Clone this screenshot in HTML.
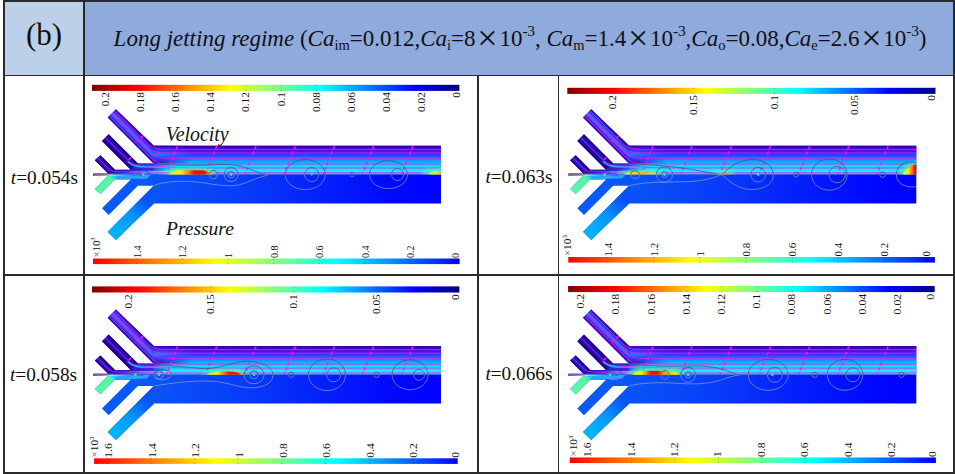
<!DOCTYPE html>
<html lang="en"><head><meta charset="utf-8"><title>Long jetting regime</title>
<style>
html,body{margin:0;padding:0;background:#fff;}
body{width:955px;height:474px;position:relative;overflow:hidden;font-family:"Liberation Serif",serif;color:#111;}
.ab{position:absolute;}
.ln{position:absolute;background:#2a2a2a;}
#cb{left:4px;top:1px;width:80px;height:75px;background:#bdd0ea;}
#ch{left:84px;top:1px;width:870px;height:75px;background:#8faadc;}
#lb{left:4px;top:-1.8px;width:80px;height:74px;line-height:74px;text-align:center;font-size:31px;}
#tt{left:113.6px;top:21.8px;white-space:nowrap;font-size:23px;line-height:34px;height:34px;}
#tt i{font-style:italic;}
#tt sub{font-size:14.5px;vertical-align:baseline;position:relative;top:4px;line-height:0;}
#tt sup{font-size:15.5px;vertical-align:baseline;position:relative;top:-9.6px;line-height:0;letter-spacing:-0.2px;}
#tt .x{display:inline-block;width:23.8px;text-align:center;font-size:36px;line-height:0;position:relative;top:4.3px;}
.tm{position:absolute;font-size:19.3px;line-height:22px;height:22px;white-space:nowrap;}
svg{position:absolute;left:0;top:0;}
svg text{font-family:"Liberation Serif",serif;fill:#111;}
</style></head>
<body>
<div class="ab" id="cb"></div><div class="ab" id="ch"></div>
<div class="ln" style="left:3px;top:0;width:951px;height:2px"></div>
<div class="ln" style="left:3px;top:472px;width:951px;height:2px"></div>
<div class="ln" style="left:3px;top:0;width:1.5px;height:474px"></div>
<div class="ln" style="left:953px;top:0;width:1.5px;height:474px"></div>
<div class="ln" style="left:83.3px;top:0;width:1.4px;height:474px"></div>
<div class="ln" style="left:477.4px;top:75px;width:1.4px;height:399px"></div>
<div class="ln" style="left:557.6px;top:75px;width:1.4px;height:399px"></div>
<div class="ln" style="left:3px;top:74.6px;width:951px;height:1.4px"></div>
<div class="ln" style="left:3px;top:274.4px;width:951px;height:1.4px"></div>
<div class="ab" id="lb">(b)</div>
<div class="ab" id="tt"><i>Long jetting regime </i>(<i>Ca</i><sub>im</sub>=0.012,<i>Ca</i><sub>i</sub>=8<span class="x">×</span>10<sup>-3</sup>, <i>Ca</i><sub>m</sub>=1.4<span class="x">×</span>10<sup>-3</sup>,<i>Ca</i><sub>o</sub>=0.08,<i>Ca</i><sub>e</sub>=2.6<span class="x">×</span>10<sup>-3</sup>)</div>
<div class="tm" style="left:10.8px;top:167.3px"><i>t</i>=0.054s</div>
<div class="tm" style="left:10px;top:363.9px"><i>t</i>=0.058s</div>
<div class="tm" style="left:485.4px;top:166.4px"><i>t</i>=0.063s</div>
<div class="tm" style="left:485.4px;top:362.6px"><i>t</i>=0.066s</div>
<svg width="955" height="474" viewBox="0 0 955 474">

<defs>
<linearGradient id="gv" x1="0" x2="1" y1="0" y2="0">
<stop offset="0" stop-color="#800000"/><stop offset="0.125" stop-color="#ff0000"/><stop offset="0.25" stop-color="#ff8000"/>
<stop offset="0.375" stop-color="#ffff00"/><stop offset="0.5" stop-color="#80ff80"/><stop offset="0.625" stop-color="#00ffff"/>
<stop offset="0.75" stop-color="#0080ff"/><stop offset="0.875" stop-color="#0000ff"/><stop offset="1" stop-color="#000080"/>
</linearGradient>
<linearGradient id="gp" x1="0" x2="1" y1="0" y2="0">
<stop offset="0" stop-color="#ff0000"/><stop offset="0.167" stop-color="#ff8000"/><stop offset="0.333" stop-color="#ffff00"/>
<stop offset="0.5" stop-color="#80ff80"/><stop offset="0.667" stop-color="#00ffff"/><stop offset="0.833" stop-color="#0080ff"/>
<stop offset="1" stop-color="#0000ff"/>
</linearGradient>
<linearGradient id="gu" gradientUnits="userSpaceOnUse" x1="0" x2="0" y1="145.8" y2="174.6">
<stop offset="0" stop-color="#3000a8"/><stop offset="0.1" stop-color="#3c08c0"/><stop offset="0.16" stop-color="#4414e0"/>
<stop offset="0.25" stop-color="#3420f8"/><stop offset="0.36" stop-color="#2450ff"/><stop offset="0.45" stop-color="#1880ff"/>
<stop offset="0.55" stop-color="#10a8ff"/><stop offset="0.62" stop-color="#08d0ff"/><stop offset="0.7" stop-color="#08e4fc"/>
<stop offset="0.8" stop-color="#04f4ff"/><stop offset="0.9" stop-color="#10f0ff"/><stop offset="0.95" stop-color="#40b8f0"/><stop offset="1" stop-color="#4898e0"/>
</linearGradient>
<linearGradient id="gl" gradientUnits="userSpaceOnUse" x1="140" x2="441" y1="0" y2="0">
<stop offset="0" stop-color="#0a58f6"/><stop offset="0.3" stop-color="#0840f8"/><stop offset="0.6" stop-color="#0420fc"/><stop offset="0.85" stop-color="#0008ff"/><stop offset="1" stop-color="#0000ff"/>
</linearGradient>
<linearGradient id="gb1" gradientUnits="userSpaceOnUse" x1="107.7" y1="117.5" x2="115.9" y2="109.3">
<stop offset="0" stop-color="#2c00a4"/><stop offset="0.16" stop-color="#4418d8"/><stop offset="0.36" stop-color="#3840f8"/><stop offset="0.52" stop-color="#2c7cff"/><stop offset="0.68" stop-color="#3840f8"/><stop offset="0.86" stop-color="#4418d8"/><stop offset="1" stop-color="#2c00a4"/>
</linearGradient>
<linearGradient id="gb2" gradientUnits="userSpaceOnUse" x1="102" y1="141" x2="108.7" y2="134.2">
<stop offset="0" stop-color="#16007c"/><stop offset="0.5" stop-color="#3410c4"/><stop offset="1" stop-color="#16007c"/>
</linearGradient>
<linearGradient id="gb3" gradientUnits="userSpaceOnUse" x1="94.8" y1="160.3" x2="100.4" y2="155.2">
<stop offset="0" stop-color="#1a0084"/><stop offset="0.5" stop-color="#3a14d0"/><stop offset="1" stop-color="#1a0084"/>
</linearGradient>
<linearGradient id="gbm" gradientUnits="userSpaceOnUse" x1="0" y1="163.8" x2="0" y2="145.4">
<stop offset="0" stop-color="#2c00a4"/><stop offset="0.16" stop-color="#4418d8"/><stop offset="0.36" stop-color="#3840f8"/><stop offset="0.52" stop-color="#2c7cff"/><stop offset="0.68" stop-color="#3840f8"/><stop offset="0.86" stop-color="#4418d8"/><stop offset="1" stop-color="#2c00a4"/>
</linearGradient>
<linearGradient id="gfm" gradientUnits="userSpaceOnUse" x1="153" y1="0" x2="192" y2="0">
<stop offset="0" stop-color="#fff"/><stop offset="0.25" stop-color="#ddd"/><stop offset="1" stop-color="#000"/>
</linearGradient>
<mask id="mf" maskUnits="userSpaceOnUse" x="150" y="140" width="50" height="30"><rect x="150" y="140" width="50" height="30" fill="url(#gfm)"/></mask>
<linearGradient id="gl1" gradientUnits="userSpaceOnUse" x1="111.8" y1="235.8" x2="153" y2="194.6">
<stop offset="0" stop-color="#00b8fe"/><stop offset="0.45" stop-color="#0898fa"/><stop offset="0.86" stop-color="#0953f6"/><stop offset="1" stop-color="#0953f6"/>
</linearGradient>
<linearGradient id="gl3" gradientUnits="userSpaceOnUse" x1="97.6" y1="191.4" x2="118" y2="177">
<stop offset="0" stop-color="#5cf8a0"/><stop offset="0.72" stop-color="#54f4a4"/><stop offset="0.88" stop-color="#28d8e8"/><stop offset="1" stop-color="#1890f6"/>
</linearGradient>
<linearGradient id="gc" gradientUnits="userSpaceOnUse" x1="93" y1="0" x2="143" y2="0">
<stop offset="0" stop-color="#ff2000"/><stop offset="0.2" stop-color="#ff8000"/><stop offset="0.36" stop-color="#f0f020"/><stop offset="0.5" stop-color="#40e8e0"/><stop offset="0.7" stop-color="#20a0ff"/><stop offset="1" stop-color="#2060ff"/>
</linearGradient>
<linearGradient id="gjs" gradientUnits="userSpaceOnUse" x1="122" y1="0" x2="170" y2="0">
<stop offset="0" stop-color="#3050ff" stop-opacity="0"/><stop offset="0.3" stop-color="#2890ff"/><stop offset="0.65" stop-color="#20d8ff"/><stop offset="1" stop-color="#60ffb0"/>
</linearGradient>
<linearGradient id="gj" gradientUnits="userSpaceOnUse" x1="112" y1="0" x2="172" y2="0">
<stop offset="0" stop-color="#2a10b8"/><stop offset="0.5" stop-color="#3a24dc"/><stop offset="0.72" stop-color="#3a30e8" stop-opacity="0.8"/><stop offset="1" stop-color="#3a30e8" stop-opacity="0"/>
</linearGradient>
<clipPath id="cu"><rect x="90" y="100" width="351" height="74.6"/></clipPath>
<clipPath id="cl"><rect x="90" y="174.6" width="351" height="80"/></clipPath>
<filter id="bl" x="-20%" y="-100%" width="140%" height="300%"><feGaussianBlur stdDeviation="1.6"/></filter>
<filter id="bs" x="-20%" y="-100%" width="140%" height="300%"><feGaussianBlur stdDeviation="0.55"/></filter>
<linearGradient id="h1" gradientUnits="userSpaceOnUse" x1="167" x2="213" y1="0" y2="0"><stop offset="0" stop-color="#b0ff50" stop-opacity="0"/><stop offset="0.087" stop-color="#fff000" stop-opacity="1"/><stop offset="0.283" stop-color="#fff000" stop-opacity="1"/><stop offset="0.457" stop-color="#ff8800" stop-opacity="1"/><stop offset="0.587" stop-color="#ff1000" stop-opacity="1"/><stop offset="0.826" stop-color="#ff1000" stop-opacity="1"/><stop offset="0.913" stop-color="#ff8800" stop-opacity="1"/><stop offset="0.967" stop-color="#fff000" stop-opacity="0.9"/><stop offset="1" stop-color="#b0ff50" stop-opacity="0"/></linearGradient><linearGradient id="h1e" gradientUnits="userSpaceOnUse" x1="426" x2="448" y1="0" y2="0"><stop offset="0" stop-color="#b0ff50" stop-opacity="0"/><stop offset="0.227" stop-color="#c0ff50" stop-opacity="0.8"/><stop offset="0.455" stop-color="#f0f020" stop-opacity="0.9"/><stop offset="0.682" stop-color="#ffb000" stop-opacity="0.95"/><stop offset="1" stop-color="#ff8800" stop-opacity="1"/></linearGradient><linearGradient id="h2" gradientUnits="userSpaceOnUse" x1="146" x2="186" y1="0" y2="0"><stop offset="0" stop-color="#b0ff50" stop-opacity="0"/><stop offset="0.15" stop-color="#e8ff30" stop-opacity="0.9"/><stop offset="0.35" stop-color="#ffd000" stop-opacity="1"/><stop offset="0.6" stop-color="#ffb000" stop-opacity="1"/><stop offset="0.85" stop-color="#d8ff40" stop-opacity="0.8"/><stop offset="1" stop-color="#b0ff50" stop-opacity="0"/></linearGradient><linearGradient id="h2b" gradientUnits="userSpaceOnUse" x1="240" x2="256" y1="0" y2="0"><stop offset="0" stop-color="#b0ff50" stop-opacity="0"/><stop offset="0.312" stop-color="#ffc000" stop-opacity="0.9"/><stop offset="0.688" stop-color="#ff9000" stop-opacity="0.9"/><stop offset="1" stop-color="#b0ff50" stop-opacity="0"/></linearGradient><linearGradient id="h2e" gradientUnits="userSpaceOnUse" x1="425" x2="442" y1="0" y2="0"><stop offset="0" stop-color="#70ffb0" stop-opacity="0"/><stop offset="0.25" stop-color="#c8ff40"/><stop offset="0.45" stop-color="#fff000"/><stop offset="0.65" stop-color="#ff8800"/><stop offset="0.85" stop-color="#ff1000"/><stop offset="1" stop-color="#f00000"/></linearGradient><linearGradient id="h3" gradientUnits="userSpaceOnUse" x1="205" x2="245" y1="0" y2="0"><stop offset="0" stop-color="#b0ff50" stop-opacity="0"/><stop offset="0.1" stop-color="#fff000" stop-opacity="0.95"/><stop offset="0.3" stop-color="#fff000" stop-opacity="1"/><stop offset="0.45" stop-color="#ff8800" stop-opacity="1"/><stop offset="0.6" stop-color="#ff1000" stop-opacity="1"/><stop offset="0.825" stop-color="#ff1000" stop-opacity="1"/><stop offset="0.925" stop-color="#ff8800" stop-opacity="1"/><stop offset="1" stop-color="#fff000" stop-opacity="0"/></linearGradient><linearGradient id="h4" gradientUnits="userSpaceOnUse" x1="155" x2="207" y1="0" y2="0"><stop offset="0" stop-color="#b0ff50" stop-opacity="0"/><stop offset="0.077" stop-color="#fff000" stop-opacity="0.95"/><stop offset="0.212" stop-color="#fff000" stop-opacity="1"/><stop offset="0.308" stop-color="#ff8800" stop-opacity="1"/><stop offset="0.385" stop-color="#ff1000" stop-opacity="1"/><stop offset="0.538" stop-color="#ff1000" stop-opacity="1"/><stop offset="0.615" stop-color="#ff8800" stop-opacity="1"/><stop offset="0.75" stop-color="#ffc000" stop-opacity="1"/><stop offset="0.885" stop-color="#fff000" stop-opacity="0.95"/><stop offset="1" stop-color="#b0ff50" stop-opacity="0"/></linearGradient></defs>

<g transform="translate(0 0)">
<rect x="92" y="84.8" width="367.4" height="6.1" fill="url(#gv)"/>
<rect x="93" y="258.5" width="366.6" height="5.6" fill="url(#gp)"/>
<path d="M105.3 84.8v1.2M105.3 90.9v-1.2" stroke="#400" stroke-width="0.7" opacity="0.45"/>
<text transform="translate(108.5 92.1) rotate(-90) scale(1 1)" font-size="11.3" text-anchor="end">0.2</text>
<path d="M140.5 84.8v1.2M140.5 90.9v-1.2" stroke="#400" stroke-width="0.7" opacity="0.45"/>
<text transform="translate(143.7 92.1) rotate(-90) scale(1 1)" font-size="11.3" text-anchor="end">0.18</text>
<path d="M175.7 84.8v1.2M175.7 90.9v-1.2" stroke="#400" stroke-width="0.7" opacity="0.45"/>
<text transform="translate(178.9 92.1) rotate(-90) scale(1 1)" font-size="11.3" text-anchor="end">0.16</text>
<path d="M210.9 84.8v1.2M210.9 90.9v-1.2" stroke="#400" stroke-width="0.7" opacity="0.45"/>
<text transform="translate(214.1 92.1) rotate(-90) scale(1 1)" font-size="11.3" text-anchor="end">0.14</text>
<path d="M246.1 84.8v1.2M246.1 90.9v-1.2" stroke="#400" stroke-width="0.7" opacity="0.45"/>
<text transform="translate(249.3 92.1) rotate(-90) scale(1 1)" font-size="11.3" text-anchor="end">0.12</text>
<path d="M281.3 84.8v1.2M281.3 90.9v-1.2" stroke="#400" stroke-width="0.7" opacity="0.45"/>
<text transform="translate(284.5 92.1) rotate(-90) scale(1 1)" font-size="11.3" text-anchor="end">0.1</text>
<path d="M316.5 84.8v1.2M316.5 90.9v-1.2" stroke="#400" stroke-width="0.7" opacity="0.45"/>
<text transform="translate(319.7 92.1) rotate(-90) scale(1 1)" font-size="11.3" text-anchor="end">0.08</text>
<path d="M351.7 84.8v1.2M351.7 90.9v-1.2" stroke="#400" stroke-width="0.7" opacity="0.45"/>
<text transform="translate(354.9 92.1) rotate(-90) scale(1 1)" font-size="11.3" text-anchor="end">0.06</text>
<path d="M386.9 84.8v1.2M386.9 90.9v-1.2" stroke="#400" stroke-width="0.7" opacity="0.45"/>
<text transform="translate(390.1 92.1) rotate(-90) scale(1 1)" font-size="11.3" text-anchor="end">0.04</text>
<path d="M422.1 84.8v1.2M422.1 90.9v-1.2" stroke="#400" stroke-width="0.7" opacity="0.45"/>
<text transform="translate(425.3 92.1) rotate(-90) scale(1 1)" font-size="11.3" text-anchor="end">0.02</text>
<path d="M456.6 84.8v1.2M456.6 90.9v-1.2" stroke="#400" stroke-width="0.7" opacity="0.45"/>
<text transform="translate(459.8 92.1) rotate(-90) scale(1 1)" font-size="11.3" text-anchor="end">0</text>
<path d="M136.9 258.5v1.2M136.9 264.1v-1.2" stroke="#400" stroke-width="0.7" opacity="0.45"/>
<text transform="translate(140.8 258) rotate(-90) scale(0.89 1)" font-size="11.3" text-anchor="start">1.4</text>
<path d="M182.5 258.5v1.2M182.5 264.1v-1.2" stroke="#400" stroke-width="0.7" opacity="0.45"/>
<text transform="translate(186.4 258) rotate(-90) scale(0.89 1)" font-size="11.3" text-anchor="start">1.2</text>
<path d="M228.1 258.5v1.2M228.1 264.1v-1.2" stroke="#400" stroke-width="0.7" opacity="0.45"/>
<text transform="translate(232 258) rotate(-90) scale(0.89 1)" font-size="11.3" text-anchor="start">1</text>
<path d="M273.7 258.5v1.2M273.7 264.1v-1.2" stroke="#400" stroke-width="0.7" opacity="0.45"/>
<text transform="translate(277.6 258) rotate(-90) scale(0.89 1)" font-size="11.3" text-anchor="start">0.8</text>
<path d="M319.3 258.5v1.2M319.3 264.1v-1.2" stroke="#400" stroke-width="0.7" opacity="0.45"/>
<text transform="translate(323.2 258) rotate(-90) scale(0.89 1)" font-size="11.3" text-anchor="start">0.6</text>
<path d="M364.9 258.5v1.2M364.9 264.1v-1.2" stroke="#400" stroke-width="0.7" opacity="0.45"/>
<text transform="translate(368.8 258) rotate(-90) scale(0.89 1)" font-size="11.3" text-anchor="start">0.4</text>
<path d="M410.5 258.5v1.2M410.5 264.1v-1.2" stroke="#400" stroke-width="0.7" opacity="0.45"/>
<text transform="translate(414.4 258) rotate(-90) scale(0.89 1)" font-size="11.3" text-anchor="start">0.2</text>
<path d="M455 258.5v1.2M455 264.1v-1.2" stroke="#400" stroke-width="0.7" opacity="0.45"/>
<text transform="translate(458.9 258) rotate(-90) scale(0.89 1)" font-size="11.3" text-anchor="start">0</text>
<text transform="translate(99.6 257.6) rotate(-90) scale(0.97 1)" font-size="11.3"><tspan font-size="11" fill="#555">×</tspan>10<tspan dy="-4.5" font-size="7">3</tspan></text>
<polygon points="153,145.8 115.9,109.3 107.7,117.5 153.6,163.4 137.9,163.4 108.7,134.2 102,141 130.7,169.7 114.9,169.7 100.4,155.2 94.8,160.3 108.1,173.6 93,173.6 93,174.6 441,174.6 441,145.8" fill="#3a14d0"/>
<polygon points="153.6,145.2 115.9,109.3 107.7,117.5 154.2,164" fill="url(#gb1)"/>
<polygon points="138.5,164 108.7,134.2 102,141 131.3,170.3" fill="url(#gb2)"/>
<polygon points="115.5,170.3 100.4,155.2 94.8,160.3 108.6,174.1" fill="url(#gb3)"/>
<polygon points="153,145.8 441,145.8 441,174.6 153.6,174.6" fill="url(#gu)"/>
<polygon points="137.9,163.4 178,163.4 178,174.6 109.1,174.6 108.1,173.6 112,171.5 116,169.7 130.7,169.7" fill="url(#gj)"/>
<path d="M128 161.5Q132 166.2 141 166.6L176 167" fill="none" stroke="#20c8ff" stroke-width="1.8" opacity="0.85"/>
<path d="M122 172.3L170 172.1" fill="none" stroke="url(#gjs)" stroke-width="2.8"/>
<polygon points="153,145.8 192,145.8 192,163.6 153.6,163.6" fill="url(#gbm)" mask="url(#mf)"/>
<polygon points="153,203.4 115.9,239.9 107.7,231.7 153.6,185.8 137.9,185.8 108.7,215 102,208.2 130.7,179.5 114.9,179.5 100.4,194 94.8,188.9 108.1,175.6 93,175.6 93,174.6 441,174.6 441,203.4" fill="url(#gl)"/>
<polygon points="153.6,204 115.9,239.9 107.7,231.7 154.2,185.2" fill="url(#gl1)"/>
<polygon points="117.5,176.9 100.4,194 94.8,188.9 109.1,174.6 125,174.6" fill="url(#gl3)"/>
<path d="M110 174.8L150 174.8L147 178.2L117 179.4Z" fill="#28c0fa" opacity="0.75" filter="url(#bs)"/>
<rect x="93" y="173.5" width="58" height="1.1" fill="#4a5cff"/>
<rect x="93" y="174.6" width="50" height="1.1" fill="url(#gc)"/>
<path d="M158 149.4H441M161 153H441M164 158.2H441M167 164H441M170 168H441" fill="none" stroke="#c020ff" stroke-width="2.4" opacity="0.22"/><path d="M114.42 110.78L146.03 142.4Q152.03 148.8 162.03 149.4H441M112.72 112.48L146.24 146Q152.24 152.4 162.24 153H441M110.88 114.32L147.76 151.2Q153.76 157.6 163.76 158.2H441M109.11 116.09L150.03 157Q156.03 163.4 166.03 164H441M105.3 137.6L127 159.3Q131.5 164.6 140 165.6L160 166.6Q175 167.6 200 168H441M97.6 157.8L108.5 168.7Q111.5 171.6 118 171.8L170 172.6H441" fill="none" stroke="#f41cf0" stroke-width="0.8" opacity="0.8"/>
<path d="M177.5 146.3L166.5 173.8M216.7 146.3L205.7 173.8M256 146.3L245 173.8M295.2 146.3L284.2 173.8M334.4 146.3L323.4 173.8M373.6 146.3L362.6 173.8M412.8 146.3L401.8 173.8M143.2 135.8L135 143.8M131 157.5L126.5 162" fill="none" stroke="#ff10ff" stroke-width="1.5" stroke-dasharray="3.4 2.2" opacity="0.95"/><g clip-path="url(#cu)"><path d="M162 175.2C166.03 170.81 168.9 167.7 173.5 167.7L206.5 167.7C211.1 167.7 213.97 170.81 218 175.2Z" fill="#50ffa0" opacity="0.6" filter="url(#bl)"/><path d="M167 175.2C171.03 172.23 173.9 170.3 178.5 170.3L201.5 170.3C206.1 170.3 208.97 172.23 213 175.2Z" fill="url(#h1)" filter="url(#bs)"/></g>
<g clip-path="url(#cu)"><path d="M421 175.2C423.31 171.3 424.96 168.6 427.6 168.6L446.4 168.6C449.04 168.6 450.69 171.3 453 175.2Z" fill="#50ffa0" opacity="0.6" filter="url(#bl)"/><path d="M426 175.2C428.31 172.73 429.96 171.2 432.6 171.2L441.4 171.2C444.04 171.2 445.69 172.73 448 175.2Z" fill="url(#h1e)" filter="url(#bs)"/></g>
<g fill="none" stroke-width="0.75"><g clip-path="url(#cu)" stroke="#38587c"><ellipse cx="143.3" cy="174.6" rx="6.5" ry="3.8"/><ellipse cx="213.4" cy="174.6" rx="4.2" ry="4.2"/><ellipse cx="231.1" cy="174.6" rx="7" ry="7"/><ellipse cx="231.1" cy="174.6" rx="3.2" ry="3.2"/><path d="M153.6 163.4C170 165.6 200 165.6 215 164.6S240 165 252 170S264 173.6 268.6 174.6C262 177 256 178.2 250 181C242 184.5 237 185.8 230 185.8C215 185.8 205 182 190 181.4C178 181 162 181.6 153.6 185.8"/><ellipse cx="305.3" cy="174.6" rx="20" ry="15"/><ellipse cx="311.7" cy="174.6" rx="7" ry="7"/><ellipse cx="352" cy="174.6" rx="2.2" ry="2.2"/><ellipse cx="388.5" cy="174.6" rx="19" ry="14"/><ellipse cx="397.5" cy="174.6" rx="6" ry="6"/></g><g clip-path="url(#cl)" stroke="#8096e0"><ellipse cx="143.3" cy="174.6" rx="6.5" ry="3.8"/><ellipse cx="213.4" cy="174.6" rx="4.2" ry="4.2"/><ellipse cx="231.1" cy="174.6" rx="7" ry="7"/><ellipse cx="231.1" cy="174.6" rx="3.2" ry="3.2"/><path d="M153.6 163.4C170 165.6 200 165.6 215 164.6S240 165 252 170S264 173.6 268.6 174.6C262 177 256 178.2 250 181C242 184.5 237 185.8 230 185.8C215 185.8 205 182 190 181.4C178 181 162 181.6 153.6 185.8"/><ellipse cx="305.3" cy="174.6" rx="20" ry="15"/><ellipse cx="311.7" cy="174.6" rx="7" ry="7"/><ellipse cx="352" cy="174.6" rx="2.2" ry="2.2"/><ellipse cx="388.5" cy="174.6" rx="19" ry="14"/><ellipse cx="397.5" cy="174.6" rx="6" ry="6"/></g></g>
<circle cx="143.3" cy="174.6" r="1.3" fill="#30e8f0" stroke="none"/>
<circle cx="231.1" cy="174.6" r="1.3" fill="#30e8f0" stroke="none"/>
<circle cx="311.7" cy="174.6" r="1" fill="#30e8f0" stroke="none"/><text x="165.7" y="141" font-size="19.9" font-style="italic">Velocity</text><text x="166" y="235.1" font-size="19.5" font-style="italic">Pressure</text>
</g>
<g transform="translate(475.3 0)">
<rect x="92" y="87.8" width="368.2" height="6.1" fill="url(#gv)"/>
<rect x="93" y="257" width="366.6" height="5.6" fill="url(#gp)"/>
<path d="M137.9 87.8v1.2M137.9 93.9v-1.2" stroke="#400" stroke-width="0.7" opacity="0.45"/>
<text transform="translate(140.8 95.1) rotate(-90) scale(1 1)" font-size="11.3" text-anchor="end">0.2</text>
<path d="M218.6 87.8v1.2M218.6 93.9v-1.2" stroke="#400" stroke-width="0.7" opacity="0.45"/>
<text transform="translate(221.5 95.1) rotate(-90) scale(1 1)" font-size="11.3" text-anchor="end">0.15</text>
<path d="M299.3 87.8v1.2M299.3 93.9v-1.2" stroke="#400" stroke-width="0.7" opacity="0.45"/>
<text transform="translate(302.2 95.1) rotate(-90) scale(1 1)" font-size="11.3" text-anchor="end">0.1</text>
<path d="M380 87.8v1.2M380 93.9v-1.2" stroke="#400" stroke-width="0.7" opacity="0.45"/>
<text transform="translate(382.9 95.1) rotate(-90) scale(1 1)" font-size="11.3" text-anchor="end">0.05</text>
<path d="M456.6 87.8v1.2M456.6 93.9v-1.2" stroke="#400" stroke-width="0.7" opacity="0.45"/>
<text transform="translate(459.5 95.1) rotate(-90) scale(1 1)" font-size="11.3" text-anchor="end">0</text>
<path d="M132.6 257v1.2M132.6 262.6v-1.2" stroke="#400" stroke-width="0.7" opacity="0.45"/>
<text transform="translate(136.5 256.5) rotate(-90) scale(0.97 1)" font-size="11.3" text-anchor="start">1.4</text>
<path d="M178.7 257v1.2M178.7 262.6v-1.2" stroke="#400" stroke-width="0.7" opacity="0.45"/>
<text transform="translate(182.6 256.5) rotate(-90) scale(0.97 1)" font-size="11.3" text-anchor="start">1.2</text>
<path d="M224.8 257v1.2M224.8 262.6v-1.2" stroke="#400" stroke-width="0.7" opacity="0.45"/>
<text transform="translate(228.7 256.5) rotate(-90) scale(0.97 1)" font-size="11.3" text-anchor="start">1</text>
<path d="M270.9 257v1.2M270.9 262.6v-1.2" stroke="#400" stroke-width="0.7" opacity="0.45"/>
<text transform="translate(274.8 256.5) rotate(-90) scale(0.97 1)" font-size="11.3" text-anchor="start">0.8</text>
<path d="M317 257v1.2M317 262.6v-1.2" stroke="#400" stroke-width="0.7" opacity="0.45"/>
<text transform="translate(320.9 256.5) rotate(-90) scale(0.97 1)" font-size="11.3" text-anchor="start">0.6</text>
<path d="M363.1 257v1.2M363.1 262.6v-1.2" stroke="#400" stroke-width="0.7" opacity="0.45"/>
<text transform="translate(367 256.5) rotate(-90) scale(0.97 1)" font-size="11.3" text-anchor="start">0.4</text>
<path d="M409.2 257v1.2M409.2 262.6v-1.2" stroke="#400" stroke-width="0.7" opacity="0.45"/>
<text transform="translate(413.1 256.5) rotate(-90) scale(0.97 1)" font-size="11.3" text-anchor="start">0.2</text>
<path d="M451.2 257v1.2M451.2 262.6v-1.2" stroke="#400" stroke-width="0.7" opacity="0.45"/>
<text transform="translate(455.1 256.5) rotate(-90) scale(0.97 1)" font-size="11.3" text-anchor="start">0</text>
<text transform="translate(96 256.1) rotate(-90) scale(1 1)" font-size="11.3"><tspan font-size="11" fill="#555">×</tspan>10<tspan dy="-4.5" font-size="7">3</tspan></text>
<polygon points="153,145.8 115.9,109.3 107.7,117.5 153.6,163.4 137.9,163.4 108.7,134.2 102,141 130.7,169.7 114.9,169.7 100.4,155.2 94.8,160.3 108.1,173.6 93,173.6 93,174.6 441,174.6 441,145.8" fill="#3a14d0"/>
<polygon points="153.6,145.2 115.9,109.3 107.7,117.5 154.2,164" fill="url(#gb1)"/>
<polygon points="138.5,164 108.7,134.2 102,141 131.3,170.3" fill="url(#gb2)"/>
<polygon points="115.5,170.3 100.4,155.2 94.8,160.3 108.6,174.1" fill="url(#gb3)"/>
<polygon points="153,145.8 441,145.8 441,174.6 153.6,174.6" fill="url(#gu)"/>
<polygon points="137.9,163.4 178,163.4 178,174.6 109.1,174.6 108.1,173.6 112,171.5 116,169.7 130.7,169.7" fill="url(#gj)"/>
<path d="M128 161.5Q132 166.2 141 166.6L176 167" fill="none" stroke="#20c8ff" stroke-width="1.8" opacity="0.85"/>
<path d="M122 172.3L170 172.1" fill="none" stroke="url(#gjs)" stroke-width="2.8"/>
<polygon points="153,145.8 192,145.8 192,163.6 153.6,163.6" fill="url(#gbm)" mask="url(#mf)"/>
<polygon points="153,203.4 115.9,239.9 107.7,231.7 153.6,185.8 137.9,185.8 108.7,215 102,208.2 130.7,179.5 114.9,179.5 100.4,194 94.8,188.9 108.1,175.6 93,175.6 93,174.6 441,174.6 441,203.4" fill="url(#gl)"/>
<polygon points="153.6,204 115.9,239.9 107.7,231.7 154.2,185.2" fill="url(#gl1)"/>
<polygon points="117.5,176.9 100.4,194 94.8,188.9 109.1,174.6 125,174.6" fill="url(#gl3)"/>
<path d="M110 174.8L150 174.8L147 178.2L117 179.4Z" fill="#28c0fa" opacity="0.75" filter="url(#bs)"/>
<rect x="93" y="173.5" width="58" height="1.1" fill="#4a5cff"/>
<rect x="93" y="174.6" width="50" height="1.1" fill="url(#gc)"/>
<path d="M158 149.4H441M161 153H441M164 158.2H441M167 164H441M170 168H441" fill="none" stroke="#c020ff" stroke-width="2.4" opacity="0.22"/><path d="M114.42 110.78L146.03 142.4Q152.03 148.8 162.03 149.4H441M112.72 112.48L146.24 146Q152.24 152.4 162.24 153H441M110.88 114.32L147.76 151.2Q153.76 157.6 163.76 158.2H441M109.11 116.09L150.03 157Q156.03 163.4 166.03 164H441M105.3 137.6L127 159.3Q131.5 164.6 140 165.6L160 166.6Q175 167.6 200 168H441M97.6 157.8L108.5 168.7Q111.5 171.6 118 171.8L170 172.6H441" fill="none" stroke="#f41cf0" stroke-width="0.8" opacity="0.8"/>
<path d="M177.5 146.3L166.5 173.8M216.7 146.3L205.7 173.8M256 146.3L245 173.8M295.2 146.3L284.2 173.8M334.4 146.3L323.4 173.8M373.6 146.3L362.6 173.8M412.8 146.3L401.8 173.8M143.2 135.8L135 143.8M131 157.5L126.5 162" fill="none" stroke="#ff10ff" stroke-width="1.5" stroke-dasharray="3.4 2.2" opacity="0.95"/><g clip-path="url(#cu)"><path d="M141 175.2C144.5 171.85 147 169.6 151 169.6L181 169.6C185 169.6 187.5 171.85 191 175.2Z" fill="#50ffa0" opacity="0.6" filter="url(#bl)"/><path d="M146 175.2C149.5 173.28 152 172.2 156 172.2L176 172.2C180 172.2 182.5 173.28 186 175.2Z" fill="url(#h2)" filter="url(#bs)"/></g>
<g clip-path="url(#cu)"><path d="M235 175.2C237.24 172.18 238.84 170.2 241.4 170.2L254.6 170.2C257.16 170.2 258.76 172.18 261 175.2Z" fill="#50ffa0" opacity="0.6" filter="url(#bl)"/><path d="M240 175.2C242.24 173.61 243.84 172.8 246.4 172.8L249.6 172.8C252.16 172.8 253.76 173.61 256 175.2Z" fill="url(#h2b)" filter="url(#bs)"/></g>
<g clip-path="url(#cu)"><path d="M422 175C426 168 434 161.5 443 161L443 176Z" fill="#50ffa0" opacity="0.6" filter="url(#bl)"/><path d="M426 175.2C430 170 435 165 442 164.2L442 175.2Z" fill="url(#h2e)" filter="url(#bs)"/></g>
<g fill="none" stroke-width="0.75"><g clip-path="url(#cu)" stroke="#38587c"><ellipse cx="129.4" cy="174.6" rx="6" ry="3.4"/><ellipse cx="159.8" cy="174.6" rx="4.2" ry="3.8"/><ellipse cx="189.1" cy="174.6" rx="8.2" ry="7.8"/><ellipse cx="189.1" cy="174.6" rx="3" ry="3"/><path d="M153.6 163.4C175 165 195 166 210 168.5S235 173 246.5 174.6C252 170 260 160 277 159.5C292 159.5 298 168 298 175C298 184 288 190 275 189.5C262 189 254 181 246.5 174.6C236 179 226 181 212 181.6C195 182.5 172 181 153.6 185.8"/><ellipse cx="282.8" cy="174.6" rx="7.3" ry="7.3"/><ellipse cx="320.9" cy="174.6" rx="2.5" ry="2.5"/><ellipse cx="354" cy="174.6" rx="17.8" ry="15.6"/><ellipse cx="361.8" cy="174.6" rx="8.2" ry="8.2"/><ellipse cx="407.2" cy="174.6" rx="2.8" ry="2.8"/><path d="M441 163C432 159.5 421 165 421 174.6C421 184 432 188.5 441 186.5"/></g><g clip-path="url(#cl)" stroke="#8096e0"><ellipse cx="129.4" cy="174.6" rx="6" ry="3.4"/><ellipse cx="159.8" cy="174.6" rx="4.2" ry="3.8"/><ellipse cx="189.1" cy="174.6" rx="8.2" ry="7.8"/><ellipse cx="189.1" cy="174.6" rx="3" ry="3"/><path d="M153.6 163.4C175 165 195 166 210 168.5S235 173 246.5 174.6C252 170 260 160 277 159.5C292 159.5 298 168 298 175C298 184 288 190 275 189.5C262 189 254 181 246.5 174.6C236 179 226 181 212 181.6C195 182.5 172 181 153.6 185.8"/><ellipse cx="282.8" cy="174.6" rx="7.3" ry="7.3"/><ellipse cx="320.9" cy="174.6" rx="2.5" ry="2.5"/><ellipse cx="354" cy="174.6" rx="17.8" ry="15.6"/><ellipse cx="361.8" cy="174.6" rx="8.2" ry="8.2"/><ellipse cx="407.2" cy="174.6" rx="2.8" ry="2.8"/><path d="M441 163C432 159.5 421 165 421 174.6C421 184 432 188.5 441 186.5"/></g></g>
<circle cx="129.4" cy="174.6" r="1.3" fill="#30e8f0" stroke="none"/>
<circle cx="189.1" cy="174.6" r="1.3" fill="#30e8f0" stroke="none"/>
<circle cx="282.8" cy="174.6" r="1.3" fill="#30e8f0" stroke="none"/>
</g>
<g transform="translate(0 200.2)">
<rect x="92" y="86.2" width="367.4" height="6.1" fill="url(#gv)"/>
<rect x="94.1" y="258.1" width="363.6" height="5.6" fill="url(#gp)"/>
<path d="M128.4 86.2v1.2M128.4 92.3v-1.2" stroke="#400" stroke-width="0.7" opacity="0.45"/>
<text transform="translate(131.6 94.1) rotate(-90) scale(1 1)" font-size="11.3" text-anchor="end">0.2</text>
<path d="M211.1 86.2v1.2M211.1 92.3v-1.2" stroke="#400" stroke-width="0.7" opacity="0.45"/>
<text transform="translate(214.3 94.1) rotate(-90) scale(1 1)" font-size="11.3" text-anchor="end">0.15</text>
<path d="M293.8 86.2v1.2M293.8 92.3v-1.2" stroke="#400" stroke-width="0.7" opacity="0.45"/>
<text transform="translate(297 94.1) rotate(-90) scale(1 1)" font-size="11.3" text-anchor="end">0.1</text>
<path d="M376.5 86.2v1.2M376.5 92.3v-1.2" stroke="#400" stroke-width="0.7" opacity="0.45"/>
<text transform="translate(379.7 94.1) rotate(-90) scale(1 1)" font-size="11.3" text-anchor="end">0.05</text>
<path d="M456.2 86.2v1.2M456.2 92.3v-1.2" stroke="#400" stroke-width="0.7" opacity="0.45"/>
<text transform="translate(459.4 94.1) rotate(-90) scale(1 1)" font-size="11.3" text-anchor="end">0</text>
<path d="M107.5 258.1v1.2M107.5 263.7v-1.2" stroke="#400" stroke-width="0.7" opacity="0.45"/>
<text transform="translate(112.1 257.6) rotate(-90) scale(1.03 1)" font-size="11.3" text-anchor="start">1.6</text>
<path d="M151.1 258.1v1.2M151.1 263.7v-1.2" stroke="#400" stroke-width="0.7" opacity="0.45"/>
<text transform="translate(155.7 257.6) rotate(-90) scale(1.03 1)" font-size="11.3" text-anchor="start">1.4</text>
<path d="M194.7 258.1v1.2M194.7 263.7v-1.2" stroke="#400" stroke-width="0.7" opacity="0.45"/>
<text transform="translate(199.3 257.6) rotate(-90) scale(1.03 1)" font-size="11.3" text-anchor="start">1.2</text>
<path d="M238.3 258.1v1.2M238.3 263.7v-1.2" stroke="#400" stroke-width="0.7" opacity="0.45"/>
<text transform="translate(242.9 257.6) rotate(-90) scale(1.03 1)" font-size="11.3" text-anchor="start">1</text>
<path d="M281.9 258.1v1.2M281.9 263.7v-1.2" stroke="#400" stroke-width="0.7" opacity="0.45"/>
<text transform="translate(286.5 257.6) rotate(-90) scale(1.03 1)" font-size="11.3" text-anchor="start">0.8</text>
<path d="M325.5 258.1v1.2M325.5 263.7v-1.2" stroke="#400" stroke-width="0.7" opacity="0.45"/>
<text transform="translate(330.1 257.6) rotate(-90) scale(1.03 1)" font-size="11.3" text-anchor="start">0.6</text>
<path d="M369.1 258.1v1.2M369.1 263.7v-1.2" stroke="#400" stroke-width="0.7" opacity="0.45"/>
<text transform="translate(373.7 257.6) rotate(-90) scale(1.03 1)" font-size="11.3" text-anchor="start">0.4</text>
<path d="M412.7 258.1v1.2M412.7 263.7v-1.2" stroke="#400" stroke-width="0.7" opacity="0.45"/>
<text transform="translate(417.3 257.6) rotate(-90) scale(1.03 1)" font-size="11.3" text-anchor="start">0.2</text>
<path d="M454.3 258.1v1.2M454.3 263.7v-1.2" stroke="#400" stroke-width="0.7" opacity="0.45"/>
<text transform="translate(458.9 257.6) rotate(-90) scale(1.03 1)" font-size="11.3" text-anchor="start">0</text>
<text transform="translate(98.2 257.2) rotate(-90) scale(1 1)" font-size="11.3"><tspan font-size="11" fill="#555">×</tspan>10<tspan dy="-4.5" font-size="7">3</tspan></text>
<polygon points="153,145.8 115.9,109.3 107.7,117.5 153.6,163.4 137.9,163.4 108.7,134.2 102,141 130.7,169.7 114.9,169.7 100.4,155.2 94.8,160.3 108.1,173.6 93,173.6 93,174.6 441,174.6 441,145.8" fill="#3a14d0"/>
<polygon points="153.6,145.2 115.9,109.3 107.7,117.5 154.2,164" fill="url(#gb1)"/>
<polygon points="138.5,164 108.7,134.2 102,141 131.3,170.3" fill="url(#gb2)"/>
<polygon points="115.5,170.3 100.4,155.2 94.8,160.3 108.6,174.1" fill="url(#gb3)"/>
<polygon points="153,145.8 441,145.8 441,174.6 153.6,174.6" fill="url(#gu)"/>
<polygon points="137.9,163.4 178,163.4 178,174.6 109.1,174.6 108.1,173.6 112,171.5 116,169.7 130.7,169.7" fill="url(#gj)"/>
<path d="M128 161.5Q132 166.2 141 166.6L176 167" fill="none" stroke="#20c8ff" stroke-width="1.8" opacity="0.85"/>
<path d="M122 172.3L170 172.1" fill="none" stroke="url(#gjs)" stroke-width="2.8"/>
<polygon points="153,145.8 192,145.8 192,163.6 153.6,163.6" fill="url(#gbm)" mask="url(#mf)"/>
<polygon points="153,203.4 115.9,239.9 107.7,231.7 153.6,185.8 137.9,185.8 108.7,215 102,208.2 130.7,179.5 114.9,179.5 100.4,194 94.8,188.9 108.1,175.6 93,175.6 93,174.6 441,174.6 441,203.4" fill="url(#gl)"/>
<polygon points="153.6,204 115.9,239.9 107.7,231.7 154.2,185.2" fill="url(#gl1)"/>
<polygon points="117.5,176.9 100.4,194 94.8,188.9 109.1,174.6 125,174.6" fill="url(#gl3)"/>
<path d="M110 174.8L150 174.8L147 178.2L117 179.4Z" fill="#28c0fa" opacity="0.75" filter="url(#bs)"/>
<rect x="93" y="173.5" width="58" height="1.1" fill="#4a5cff"/>
<rect x="93" y="174.6" width="50" height="1.1" fill="url(#gc)"/>
<path d="M158 149.4H441M161 153H441M164 158.2H441M167 164H441M170 168H441" fill="none" stroke="#c020ff" stroke-width="2.4" opacity="0.22"/><path d="M114.42 110.78L146.03 142.4Q152.03 148.8 162.03 149.4H441M112.72 112.48L146.24 146Q152.24 152.4 162.24 153H441M110.88 114.32L147.76 151.2Q153.76 157.6 163.76 158.2H441M109.11 116.09L150.03 157Q156.03 163.4 166.03 164H441M105.3 137.6L127 159.3Q131.5 164.6 140 165.6L160 166.6Q175 167.6 200 168H441M97.6 157.8L108.5 168.7Q111.5 171.6 118 171.8L170 172.6H441" fill="none" stroke="#f41cf0" stroke-width="0.8" opacity="0.8"/>
<path d="M177.5 146.3L166.5 173.8M216.7 146.3L205.7 173.8M256 146.3L245 173.8M295.2 146.3L284.2 173.8M334.4 146.3L323.4 173.8M373.6 146.3L362.6 173.8M412.8 146.3L401.8 173.8M143.2 135.8L135 143.8M131 157.5L126.5 162" fill="none" stroke="#ff10ff" stroke-width="1.5" stroke-dasharray="3.4 2.2" opacity="0.95"/><g clip-path="url(#cu)"><path d="M200 175.2C205.6 171.35 209.6 168.7 216 168.7L234 168.7C240.4 168.7 244.4 171.35 250 175.2Z" fill="#50ffa0" opacity="0.6" filter="url(#bl)"/><path d="M205 175.2C210.6 172.78 214.6 171.3 221 171.3L229 171.3C235.4 171.3 239.4 172.78 245 175.2Z" fill="url(#h3)" filter="url(#bs)"/></g>
<g fill="none" stroke-width="0.75"><g clip-path="url(#cu)" stroke="#38587c"><ellipse cx="135.3" cy="174.6" rx="5" ry="3"/><ellipse cx="159" cy="174.6" rx="4" ry="4"/><ellipse cx="162" cy="174.6" rx="9" ry="5.2"/><ellipse cx="254" cy="174.6" rx="10" ry="9"/><ellipse cx="254" cy="174.6" rx="4" ry="4"/><path d="M153.6 163.4C170 165.5 190 167.5 205 168.5C220 168.5 232 161.5 247 161.2C262 161 273 167 273 175C273 183.5 262 188 250 187.6C236 187 228 182 212 181C195 180 170 183 153.6 185.8"/><ellipse cx="291.2" cy="174.6" rx="2.7" ry="2.7"/><ellipse cx="327" cy="174.6" rx="18.5" ry="15.8"/><ellipse cx="333.7" cy="174.6" rx="7" ry="7"/><ellipse cx="376.5" cy="174.6" rx="2.7" ry="2.7"/><ellipse cx="410" cy="174.6" rx="18" ry="15"/><ellipse cx="419" cy="174.6" rx="5.5" ry="5.5"/></g><g clip-path="url(#cl)" stroke="#8096e0"><ellipse cx="135.3" cy="174.6" rx="5" ry="3"/><ellipse cx="159" cy="174.6" rx="4" ry="4"/><ellipse cx="162" cy="174.6" rx="9" ry="5.2"/><ellipse cx="254" cy="174.6" rx="10" ry="9"/><ellipse cx="254" cy="174.6" rx="4" ry="4"/><path d="M153.6 163.4C170 165.5 190 167.5 205 168.5C220 168.5 232 161.5 247 161.2C262 161 273 167 273 175C273 183.5 262 188 250 187.6C236 187 228 182 212 181C195 180 170 183 153.6 185.8"/><ellipse cx="291.2" cy="174.6" rx="2.7" ry="2.7"/><ellipse cx="327" cy="174.6" rx="18.5" ry="15.8"/><ellipse cx="333.7" cy="174.6" rx="7" ry="7"/><ellipse cx="376.5" cy="174.6" rx="2.7" ry="2.7"/><ellipse cx="410" cy="174.6" rx="18" ry="15"/><ellipse cx="419" cy="174.6" rx="5.5" ry="5.5"/></g></g>
<circle cx="135.3" cy="174.6" r="1.3" fill="#30e8f0" stroke="none"/>
<circle cx="159" cy="174.6" r="1.3" fill="#30e8f0" stroke="none"/>
<circle cx="254" cy="174.6" r="1.3" fill="#30e8f0" stroke="none"/>
</g>
<g transform="translate(475.3 200.2)">
<rect x="92.8" y="85.8" width="366.6" height="6.1" fill="url(#gv)"/>
<rect x="94.4" y="257.25" width="366.2" height="5.6" fill="url(#gp)"/>
<path d="M105.7 85.8v1.2M105.7 91.9v-1.2" stroke="#400" stroke-width="0.7" opacity="0.45"/>
<text transform="translate(108.9 93.5) rotate(-90) scale(1.05 1)" font-size="11.3" text-anchor="end">0.2</text>
<path d="M140.9 85.8v1.2M140.9 91.9v-1.2" stroke="#400" stroke-width="0.7" opacity="0.45"/>
<text transform="translate(144.1 93.5) rotate(-90) scale(1.05 1)" font-size="11.3" text-anchor="end">0.18</text>
<path d="M176.1 85.8v1.2M176.1 91.9v-1.2" stroke="#400" stroke-width="0.7" opacity="0.45"/>
<text transform="translate(179.3 93.5) rotate(-90) scale(1.05 1)" font-size="11.3" text-anchor="end">0.16</text>
<path d="M211.3 85.8v1.2M211.3 91.9v-1.2" stroke="#400" stroke-width="0.7" opacity="0.45"/>
<text transform="translate(214.5 93.5) rotate(-90) scale(1.05 1)" font-size="11.3" text-anchor="end">0.14</text>
<path d="M246.5 85.8v1.2M246.5 91.9v-1.2" stroke="#400" stroke-width="0.7" opacity="0.45"/>
<text transform="translate(249.7 93.5) rotate(-90) scale(1.05 1)" font-size="11.3" text-anchor="end">0.12</text>
<path d="M281.7 85.8v1.2M281.7 91.9v-1.2" stroke="#400" stroke-width="0.7" opacity="0.45"/>
<text transform="translate(284.9 93.5) rotate(-90) scale(1.05 1)" font-size="11.3" text-anchor="end">0.1</text>
<path d="M316.9 85.8v1.2M316.9 91.9v-1.2" stroke="#400" stroke-width="0.7" opacity="0.45"/>
<text transform="translate(320.1 93.5) rotate(-90) scale(1.05 1)" font-size="11.3" text-anchor="end">0.08</text>
<path d="M352.1 85.8v1.2M352.1 91.9v-1.2" stroke="#400" stroke-width="0.7" opacity="0.45"/>
<text transform="translate(355.3 93.5) rotate(-90) scale(1.05 1)" font-size="11.3" text-anchor="end">0.06</text>
<path d="M387.3 85.8v1.2M387.3 91.9v-1.2" stroke="#400" stroke-width="0.7" opacity="0.45"/>
<text transform="translate(390.5 93.5) rotate(-90) scale(1.05 1)" font-size="11.3" text-anchor="end">0.04</text>
<path d="M422.5 85.8v1.2M422.5 91.9v-1.2" stroke="#400" stroke-width="0.7" opacity="0.45"/>
<text transform="translate(425.7 93.5) rotate(-90) scale(1.05 1)" font-size="11.3" text-anchor="end">0.02</text>
<path d="M455 85.8v1.2M455 91.9v-1.2" stroke="#400" stroke-width="0.7" opacity="0.45"/>
<text transform="translate(458.2 93.5) rotate(-90) scale(1.05 1)" font-size="11.3" text-anchor="end">0</text>
<path d="M112.9 257.25v1.2M112.9 262.85v-1.2" stroke="#400" stroke-width="0.7" opacity="0.45"/>
<text transform="translate(115.8 256.75) rotate(-90) scale(1.03 1)" font-size="11.3" text-anchor="start">1.6</text>
<path d="M156.3 257.25v1.2M156.3 262.85v-1.2" stroke="#400" stroke-width="0.7" opacity="0.45"/>
<text transform="translate(159.2 256.75) rotate(-90) scale(1.03 1)" font-size="11.3" text-anchor="start">1.4</text>
<path d="M199.7 257.25v1.2M199.7 262.85v-1.2" stroke="#400" stroke-width="0.7" opacity="0.45"/>
<text transform="translate(202.6 256.75) rotate(-90) scale(1.03 1)" font-size="11.3" text-anchor="start">1.2</text>
<path d="M243.1 257.25v1.2M243.1 262.85v-1.2" stroke="#400" stroke-width="0.7" opacity="0.45"/>
<text transform="translate(246 256.75) rotate(-90) scale(1.03 1)" font-size="11.3" text-anchor="start">1</text>
<path d="M286.5 257.25v1.2M286.5 262.85v-1.2" stroke="#400" stroke-width="0.7" opacity="0.45"/>
<text transform="translate(289.4 256.75) rotate(-90) scale(1.03 1)" font-size="11.3" text-anchor="start">0.8</text>
<path d="M329.9 257.25v1.2M329.9 262.85v-1.2" stroke="#400" stroke-width="0.7" opacity="0.45"/>
<text transform="translate(332.8 256.75) rotate(-90) scale(1.03 1)" font-size="11.3" text-anchor="start">0.6</text>
<path d="M373.3 257.25v1.2M373.3 262.85v-1.2" stroke="#400" stroke-width="0.7" opacity="0.45"/>
<text transform="translate(376.2 256.75) rotate(-90) scale(1.03 1)" font-size="11.3" text-anchor="start">0.4</text>
<path d="M416.7 257.25v1.2M416.7 262.85v-1.2" stroke="#400" stroke-width="0.7" opacity="0.45"/>
<text transform="translate(419.6 256.75) rotate(-90) scale(1.03 1)" font-size="11.3" text-anchor="start">0.2</text>
<path d="M458 257.25v1.2M458 262.85v-1.2" stroke="#400" stroke-width="0.7" opacity="0.45"/>
<text transform="translate(460.9 256.75) rotate(-90) scale(1.03 1)" font-size="11.3" text-anchor="start">0</text>
<text transform="translate(101.7 256.35) rotate(-90) scale(1 1)" font-size="11.3"><tspan font-size="11" fill="#555">×</tspan>10<tspan dy="-4.5" font-size="7">3</tspan></text>
<polygon points="153,145.8 115.9,109.3 107.7,117.5 153.6,163.4 137.9,163.4 108.7,134.2 102,141 130.7,169.7 114.9,169.7 100.4,155.2 94.8,160.3 108.1,173.6 93,173.6 93,174.6 441,174.6 441,145.8" fill="#3a14d0"/>
<polygon points="153.6,145.2 115.9,109.3 107.7,117.5 154.2,164" fill="url(#gb1)"/>
<polygon points="138.5,164 108.7,134.2 102,141 131.3,170.3" fill="url(#gb2)"/>
<polygon points="115.5,170.3 100.4,155.2 94.8,160.3 108.6,174.1" fill="url(#gb3)"/>
<polygon points="153,145.8 441,145.8 441,174.6 153.6,174.6" fill="url(#gu)"/>
<polygon points="137.9,163.4 178,163.4 178,174.6 109.1,174.6 108.1,173.6 112,171.5 116,169.7 130.7,169.7" fill="url(#gj)"/>
<path d="M128 161.5Q132 166.2 141 166.6L176 167" fill="none" stroke="#20c8ff" stroke-width="1.8" opacity="0.85"/>
<path d="M122 172.3L170 172.1" fill="none" stroke="url(#gjs)" stroke-width="2.8"/>
<polygon points="153,145.8 192,145.8 192,163.6 153.6,163.6" fill="url(#gbm)" mask="url(#mf)"/>
<polygon points="153,203.4 115.9,239.9 107.7,231.7 153.6,185.8 137.9,185.8 108.7,215 102,208.2 130.7,179.5 114.9,179.5 100.4,194 94.8,188.9 108.1,175.6 93,175.6 93,174.6 441,174.6 441,203.4" fill="url(#gl)"/>
<polygon points="153.6,204 115.9,239.9 107.7,231.7 154.2,185.2" fill="url(#gl1)"/>
<polygon points="117.5,176.9 100.4,194 94.8,188.9 109.1,174.6 125,174.6" fill="url(#gl3)"/>
<path d="M110 174.8L150 174.8L147 178.2L117 179.4Z" fill="#28c0fa" opacity="0.75" filter="url(#bs)"/>
<rect x="93" y="173.5" width="58" height="1.1" fill="#4a5cff"/>
<rect x="93" y="174.6" width="50" height="1.1" fill="url(#gc)"/>
<path d="M158 149.4H441M161 153H441M164 158.2H441M167 164H441M170 168H441" fill="none" stroke="#c020ff" stroke-width="2.4" opacity="0.22"/><path d="M114.42 110.78L146.03 142.4Q152.03 148.8 162.03 149.4H441M112.72 112.48L146.24 146Q152.24 152.4 162.24 153H441M110.88 114.32L147.76 151.2Q153.76 157.6 163.76 158.2H441M109.11 116.09L150.03 157Q156.03 163.4 166.03 164H441M105.3 137.6L127 159.3Q131.5 164.6 140 165.6L160 166.6Q175 167.6 200 168H441M97.6 157.8L108.5 168.7Q111.5 171.6 118 171.8L170 172.6H441" fill="none" stroke="#f41cf0" stroke-width="0.8" opacity="0.8"/>
<path d="M177.5 146.3L166.5 173.8M216.7 146.3L205.7 173.8M256 146.3L245 173.8M295.2 146.3L284.2 173.8M334.4 146.3L323.4 173.8M373.6 146.3L362.6 173.8M412.8 146.3L401.8 173.8M143.2 135.8L135 143.8M131 157.5L126.5 162" fill="none" stroke="#ff10ff" stroke-width="1.5" stroke-dasharray="3.4 2.2" opacity="0.95"/><g clip-path="url(#cu)"><path d="M150 175.2C154.55 170.91 157.8 167.9 163 167.9L199 167.9C204.2 167.9 207.45 170.91 212 175.2Z" fill="#50ffa0" opacity="0.6" filter="url(#bl)"/><path d="M155 175.2C159.55 172.34 162.8 170.5 168 170.5L194 170.5C199.2 170.5 202.45 172.34 207 175.2Z" fill="url(#h4)" filter="url(#bs)"/></g>
<g fill="none" stroke-width="0.75"><g clip-path="url(#cu)" stroke="#38587c"><ellipse cx="134.7" cy="174.6" rx="5" ry="3.2"/><ellipse cx="138.5" cy="174.6" rx="9" ry="4.8"/><ellipse cx="189.7" cy="174.6" rx="4" ry="4.4"/><ellipse cx="212.8" cy="174.6" rx="7.5" ry="7.5"/><ellipse cx="212.8" cy="174.6" rx="3" ry="3"/><path d="M153.6 163.4C170 165.5 190 166.5 205 166S235 165.5 247 169S258 174 264.5 174.6C258 175.6 252 177.5 245 180C232 184.5 215 184 200 183C185 182 165 182.5 153.6 185.8"/><ellipse cx="292.9" cy="174.6" rx="20" ry="15.5"/><ellipse cx="299.6" cy="174.6" rx="7.5" ry="7.5"/><ellipse cx="339.4" cy="174.6" rx="2.7" ry="2.7"/><ellipse cx="369.7" cy="174.6" rx="17.8" ry="15.5"/><ellipse cx="377.5" cy="174.6" rx="7" ry="7"/><ellipse cx="426.3" cy="174.6" rx="2.7" ry="2.7"/></g><g clip-path="url(#cl)" stroke="#8096e0"><ellipse cx="134.7" cy="174.6" rx="5" ry="3.2"/><ellipse cx="138.5" cy="174.6" rx="9" ry="4.8"/><ellipse cx="189.7" cy="174.6" rx="4" ry="4.4"/><ellipse cx="212.8" cy="174.6" rx="7.5" ry="7.5"/><ellipse cx="212.8" cy="174.6" rx="3" ry="3"/><path d="M153.6 163.4C170 165.5 190 166.5 205 166S235 165.5 247 169S258 174 264.5 174.6C258 175.6 252 177.5 245 180C232 184.5 215 184 200 183C185 182 165 182.5 153.6 185.8"/><ellipse cx="292.9" cy="174.6" rx="20" ry="15.5"/><ellipse cx="299.6" cy="174.6" rx="7.5" ry="7.5"/><ellipse cx="339.4" cy="174.6" rx="2.7" ry="2.7"/><ellipse cx="369.7" cy="174.6" rx="17.8" ry="15.5"/><ellipse cx="377.5" cy="174.6" rx="7" ry="7"/><ellipse cx="426.3" cy="174.6" rx="2.7" ry="2.7"/></g></g>
<circle cx="134.7" cy="174.6" r="1.3" fill="#30e8f0" stroke="none"/>
<circle cx="212.8" cy="174.6" r="1.3" fill="#30e8f0" stroke="none"/>
<circle cx="297" cy="174.6" r="1.3" fill="#30e8f0" stroke="none"/>
</g>
</svg>
</body></html>
